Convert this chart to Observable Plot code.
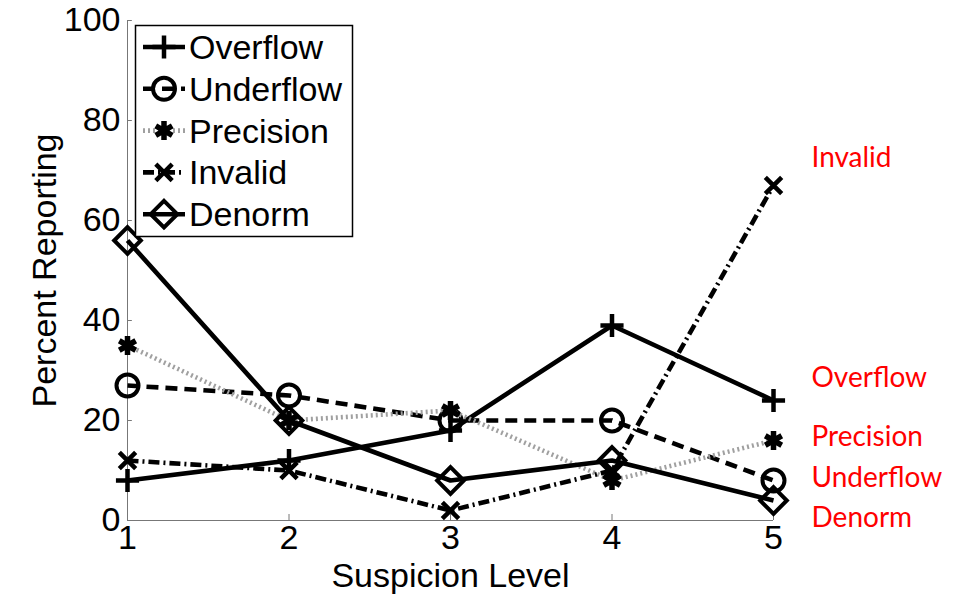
<!DOCTYPE html>
<html>
<head>
<meta charset="utf-8">
<script src="https://cdn.jsdelivr.net/npm/d3@7"></script>
<script src="https://cdn.jsdelivr.net/npm/@observablehq/plot@0.6"></script>
<style>
  html, body { margin: 0; padding: 0; background: white; }
</style>
</head>
<body>
<div id="chart"></div>
<script>
const levels = [1, 2, 3, 4, 5];
const overflow  = [8, 12, 18, 39, 24];
const underflow = [27, 25, 20, 20, 8];
const precision = [35, 20, 22, 8, 16];
const invalid   = [12, 10, 2, 10, 67];
const denorm    = [56, 20, 8, 12, 4];
const seriesNames = ["Overflow", "Underflow", "Precision", "Invalid", "Denorm"];
const xTicks = [1, 2, 3, 4, 5];
const yTicks = [0, 20, 40, 60, 80, 100];
// right-hand red annotation anchors (percent units), series order
const labelAt = [28.4, 8.4, 16.6, 72.4, 0.4];

const seriesValues = [overflow, underflow, precision, invalid, denorm];
const styles = [
  {symbol: "plus",     d3sym: d3.symbolPlus,     r: 7.5, sw: 4.5, line: {stroke: "black", strokeDasharray: null}},
  {symbol: "circle",   d3sym: d3.symbolCircle,   r: 11,  sw: 4,   line: {stroke: "black", strokeDasharray: "12,7"}},
  {symbol: "asterisk", d3sym: d3.symbolAsterisk, r: 9,   sw: 5.5, line: {stroke: "#a0a0a0", strokeDasharray: "2,3"}},
  {symbol: "times",    d3sym: d3.symbolTimes,    r: 7.5, sw: 4.5, line: {stroke: "black", strokeDasharray: "11,4,2,4"}},
  {symbol: "diamond2", d3sym: d3.symbolDiamond2, r: 12,  sw: 4,   line: {stroke: "black", strokeDasharray: null}}
];

const table = seriesNames.map((name, i) =>
  levels.map((x, j) => ({series: name, x, y: seriesValues[i][j]}))
);

const FONT = "Liberation Sans, Arial, Helvetica, sans-serif";

const marks = [
  Plot.ruleY([0], {x1: 1, x2: 5, stroke: "#777", strokeWidth: 1}),
  Plot.ruleX([1], {y1: 0, y2: 100, stroke: "#777", strokeWidth: 1}),
  Plot.ruleY(yTicks, {x1: 1, x2: 1.03, stroke: "#777"}),
  Plot.ruleX(xTicks, {y1: 0, y2: 1.2, stroke: "#777"}),
  Plot.axisY({ticks: yTicks, tickSize: 0, tickPadding: 7, label: null, fontSize: 34, fill: "black"}),
  Plot.axisX({ticks: xTicks, tickSize: 0, tickPadding: 4, label: null, fontSize: 34, fill: "black",
    tickFormat: d3.format("d")}),
  Plot.text(["Suspicion Level"], {frameAnchor: "bottom", dy: 66, fontSize: 34, fill: "black"}),
  Plot.text(["Percent Reporting"], {frameAnchor: "left", dx: -82, rotate: -90, textAnchor: "middle",
    fontSize: 34, fill: "black"})
];

table.forEach((rows, i) => {
  const st = styles[i];
  marks.push(Plot.line(rows, {x: "x", y: "y", stroke: st.line.stroke, strokeWidth: 4.6,
    strokeDasharray: st.line.strokeDasharray, strokeLinejoin: "miter", strokeLinecap: "butt"}));
  marks.push(Plot.dot(rows, {x: "x", y: "y", symbol: st.symbol, r: st.r, stroke: "black",
    strokeWidth: st.sw, fill: "none"}));
});

marks.push(Plot.text(seriesNames, {x: 5, y: labelAt, text: d => d, dx: 38, textAnchor: "start",
  lineAnchor: "middle", fill: "#ff0000", fontSize: 28, fontFamily: "Lato"}));

const chart = Plot.plot({
  width: 959,
  height: 599,
  marginLeft: 127,
  marginRight: 186,
  marginTop: 20,
  marginBottom: 79,
  x: {domain: [1, 5]},
  y: {domain: [0, 100]},
  style: {fontFamily: FONT, fontSize: "34px", background: "white", overflow: "visible"},
  marks
});

// Legend box
const svg = d3.select(chart);
const lg = svg.append("g").attr("text-anchor", "start");
lg.append("rect").attr("x", 135.5).attr("y", 25.5).attr("width", 217).attr("height", 211)
  .attr("fill", "white").attr("stroke", "black").attr("stroke-width", 1.5);
seriesNames.forEach((name, i) => {
  const st = styles[i];
  const cy = 47 + i * 41.8;
  lg.append("line").attr("x1", 143).attr("x2", 185).attr("y1", cy).attr("y2", cy)
    .attr("stroke", st.line.stroke).attr("stroke-width", 4.6)
    .attr("stroke-dasharray", st.line.strokeDasharray);
  lg.append("path").attr("d", d3.symbol(st.d3sym, Math.PI * st.r * st.r)())
    .attr("transform", `translate(164,${cy})`)
    .attr("fill", "none").attr("stroke", "black").attr("stroke-width", st.sw);
  lg.append("text").attr("x", 189).attr("y", cy).attr("dy", "0.35em")
    .attr("text-anchor", "start")
    .attr("font-size", 34).attr("font-family", FONT).attr("fill", "black").text(name);
});

document.getElementById("chart").appendChild(chart);
</script>
</body>
</html>
